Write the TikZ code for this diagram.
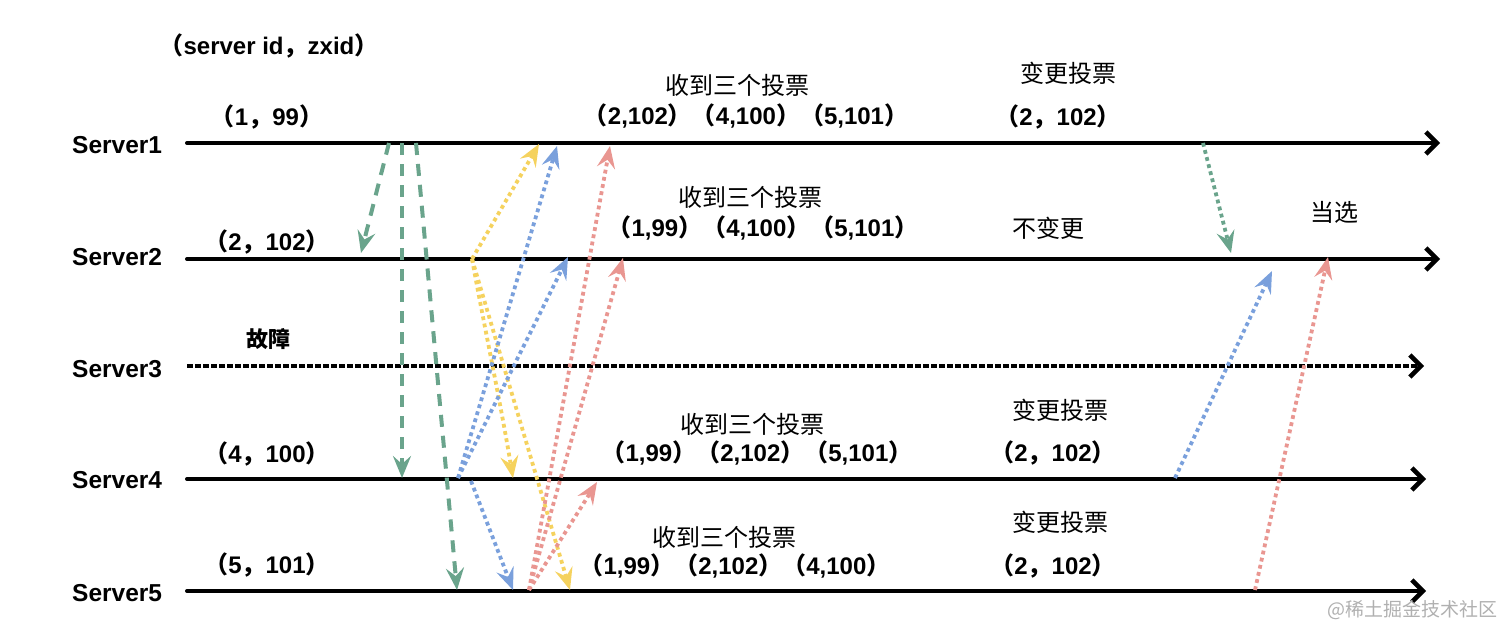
\documentclass[tikz,border=0pt]{standalone}
\usepackage{fontspec}
\setmainfont{Liberation Sans}
\newfontfamily\cjk{Noto Sans CJK SC}
\usetikzlibrary{arrows.meta}
\newcommand\LPa{{\cjk （}}
\newcommand\RPa{{\cjk ）}}
\newcommand\CMa{{\cjk ，}}
\definecolor{cgreen}{HTML}{6AA48C}
\definecolor{cyellow}{HTML}{F5D25E}
\definecolor{cblue}{HTML}{7AA0DC}
\definecolor{cred}{HTML}{E99691}
\definecolor{cmark}{HTML}{B0B0B0}
\begin{document}
\begin{tikzpicture}[x=1pt,y=-1pt,
  lbl/.style={inner sep=0pt,anchor=base,font=\fontsize{24}{28}\selectfont\bfseries},
  srv/.style={inner sep=0pt,anchor=base west,font=\fontsize{24.5}{28}\selectfont\bfseries},
  cn/.style={inner sep=0pt,anchor=base,font=\fontsize{24}{28}\selectfont\cjk},
  tline/.style={line width=4pt,line cap=round,-{Straight Barb[length=11pt,width=22pt,line width=4.5pt]}},
  tipc/.style={-{Stealth[length=22pt,width=18pt,inset=8pt]}},
  gdash/.style={cgreen,line width=4pt,dash pattern=on 12pt off 9pt,tipc},
  dots/.style={line width=3.8pt,dash pattern=on 3.8pt off 3.5pt,tipc},
]
\useasboundingbox (0,0) rectangle (1512,638);
% server lines
\coordinate (s1a) at (187,143); \coordinate (s1b) at (1440,143);
\coordinate (s2a) at (187,259); \coordinate (s2b) at (1440,259);
\coordinate (s3a) at (187,366); \coordinate (s3b) at (1424,366);
\coordinate (s4a) at (187,479); \coordinate (s4b) at (1426,479);
\coordinate (s5a) at (187,591); \coordinate (s5b) at (1426,591);
\draw[tline] (s1a) -- (s1b);
\draw[tline] (s2a) -- (s2b);
\draw[tline,line width=4.5pt,dash pattern=on 6pt off 2pt,line cap=butt] (s3a) -- (s3b);
\draw[tline] (s4a) -- (s4b);
\draw[tline] (s5a) -- (s5b);
% server labels
\node[srv] (n1) at (72,153) {Server1};
\node[srv] (n2) at (72,265) {Server2};
\node[srv] (n3) at (72,377) {Server3};
\node[srv] (n4) at (72,488) {Server4};
\node[srv] (n5) at (72,601) {Server5};
% left labels
\node[lbl] (title) at (269,54) {\LPa server id\CMa zxid\RPa};
\node[lbl] (v1) at (267,125) {\LPa 1\CMa 99\RPa};
\node[lbl] (v2) at (267,250) {\LPa 2\CMa 102\RPa};
\node[cn,font=\fontsize{22}{26}\selectfont\cjk\bfseries] (fault) at (268,347) {故障};
\node[lbl] (v4) at (267,462) {\LPa 4\CMa 100\RPa};
\node[lbl] (v5) at (267,573) {\LPa 5\CMa 101\RPa};
% middle labels
\node[cn] (r1) at (737,94) {收到三个投票};
\node[lbl] (r1v) at (746,124) {\LPa 2,102\RPa\LPa 4,100\RPa\LPa 5,101\RPa};
\node[cn] (r2) at (750,206) {收到三个投票};
\node[lbl] (r2v) at (763,236) {\LPa 1,99\RPa\LPa 4,100\RPa\LPa 5,101\RPa};
\node[cn] (r4) at (752,433) {收到三个投票};
\node[lbl] (r4v) at (757,461) {\LPa 1,99\RPa\LPa 2,102\RPa\LPa 5,101\RPa};
\node[cn] (r5) at (724,546) {收到三个投票};
\node[lbl] (r5v) at (735,574) {\LPa 1,99\RPa\LPa 2,102\RPa\LPa 4,100\RPa};
% right labels
\node[cn] (c1) at (1068,82) {变更投票};
\node[lbl] (c1v) at (1058,125) {\LPa 2\CMa 102\RPa};
\node[cn] (c2) at (1048,237) {不变更};
\node[cn] (win) at (1334,221) {当选};
\node[cn] (c4) at (1060,419) {变更投票};
\node[lbl] (c4v) at (1053,461) {\LPa 2\CMa 102\RPa};
\node[cn] (c5) at (1060,531) {变更投票};
\node[lbl] (c5v) at (1053,574) {\LPa 2\CMa 102\RPa};
\node[cn,font=\fontsize{19}{22}\selectfont\cjk,text=cmark] (wm) at (1412,616) {@稀土掘金技术社区};
% green dashed from Server1
\coordinate (g1s) at (389,143); \coordinate (g1e) at (361,253);
\coordinate (g2s) at (402,143); \coordinate (g2e) at (402,478);
\coordinate (g3s) at (416,143); \coordinate (g3e) at (457,590);
\draw[gdash] (g1s) -- (g1e);
\draw[gdash] (g2s) -- (g2e);
\draw[gdash] (g3s) -- (g3e);
% yellow dotted from Server2
\coordinate (ys) at (472,259);
\coordinate (y1e) at (539,144); \coordinate (y4e) at (513,478); \coordinate (y5e) at (570,590);
\draw[dots,cyellow] (ys) -- (y1e);
\draw[dots,cyellow] (ys) .. controls (485,330) and (500,400) .. (y4e);
\draw[dots,cyellow] (ys) -- (y5e);
% blue dotted from Server4
\coordinate (bs) at (458,478); \coordinate (bs2) at (471,481);
\coordinate (b1e) at (557,146); \coordinate (b2e) at (568,257); \coordinate (b5e) at (513,590);
\draw[dots,cblue] (bs) -- (b1e);
\draw[dots,cblue] (bs) -- (b2e);
\draw[dots,cblue] (bs2) -- (b5e);
% red dotted from Server5
\coordinate (rs) at (529,590);
\coordinate (re1) at (610,146); \coordinate (re2) at (623,258); \coordinate (re4) at (597,482);
\draw[dots,cred] (rs) -- (re1);
\draw[dots,cred] (rs) -- (re2);
\draw[dots,cred] (rs) -- (re4);
% right side
\coordinate (gr s) at (1203,143); \coordinate (gr e) at (1231,253);
\draw[dots,cgreen] (gr s) -- (gr e);
\coordinate (br s) at (1175,478); \coordinate (br e) at (1272,271);
\draw[dots,cblue] (br s) -- (br e);
\coordinate (rr s) at (1255,590); \coordinate (rr e) at (1328,257);
\draw[dots,cred] (rr s) -- (rr e);
\end{tikzpicture}
\end{document}
